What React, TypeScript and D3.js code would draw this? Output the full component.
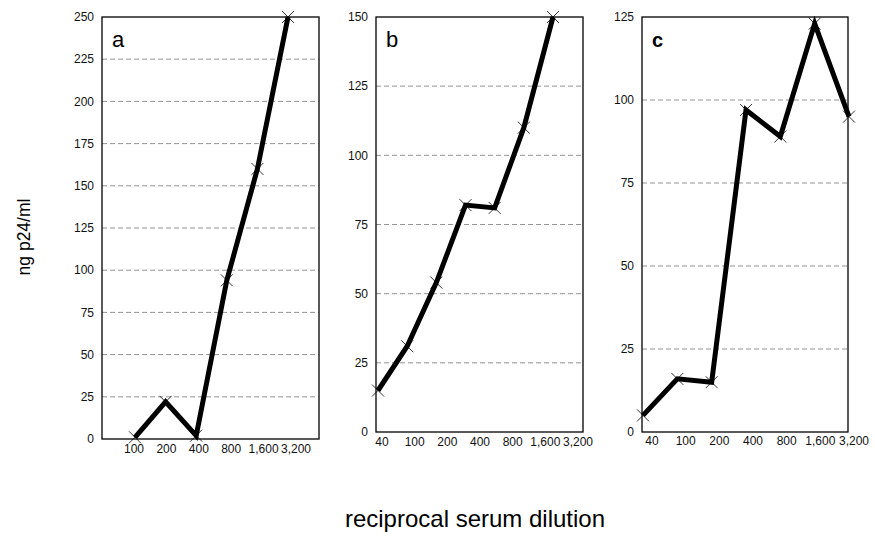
import React from "react";
import * as d3 from "d3";

// ---- data ----
const labelsA = ["100", "200", "400", "800", "1,600", "3,200"];
const valuesA = [1, 22, 2, 94, 160, 250];
const labelsB = ["40", "100", "200", "400", "800", "1,600", "3,200"];
const valuesB = [15, 31, 54, 82, 81, 110, 150];
const labelsC = ["40", "100", "200", "400", "800", "1,600", "3,200"];
const valuesC = [5, 16, 15, 97, 89, 123, 95];
const yMaxA = 250;
const yMaxB = 150;
const yMaxC = 125;
const yStep = 25;

const W = 875;
const H = 538;
const FONT = "'Liberation Sans', Arial, Helvetica, sans-serif";

type PanelCfg = {
  letter: string;
  letterSize: number;
  letterWeight: string;
  labels: string[];
  values: number[];
  yMax: number;
  box: [number, number, number, number]; // x0,y0,x1,y1
  pts: [number, number];
  lbl: [number, number];
  lblY: number;
};

const panels: PanelCfg[] = [
  {
    letter: "a", letterSize: 22, letterWeight: "normal",
    labels: labelsA, values: valuesA, yMax: yMaxA,
    box: [102, 17, 319, 439], pts: [135, 288], lbl: [134, 296], lblY: 453,
  },
  {
    letter: "b", letterSize: 22, letterWeight: "normal",
    labels: labelsB, values: valuesB, yMax: yMaxB,
    box: [376, 17, 583, 432], pts: [378, 553], lbl: [382, 578], lblY: 446,
  },
  {
    letter: "c", letterSize: 20, letterWeight: "bold",
    labels: labelsC, values: valuesC, yMax: yMaxC,
    box: [642, 17, 848, 432], pts: [643, 849], lbl: [652, 854], lblY: 445,
  },
];

function Panel({ cfg }: { cfg: PanelCfg }) {
  const [x0, y0, x1, y1] = cfg.box;
  const y = d3.scaleLinear().domain([0, cfg.yMax]).range([y1, y0]);
  const x = d3.scalePoint<string>().domain(cfg.labels).range(cfg.pts);
  const xl = d3.scalePoint<string>().domain(cfg.labels).range(cfg.lbl);
  const ticks = d3.range(0, cfg.yMax + 0.001, yStep);
  const line = d3
    .line<number>()
    .x((_, i) => x(cfg.labels[i]) as number)
    .y((d) => y(d));
  const s = 6;
  return (
    <g>
      {ticks
        .filter((t) => t > 0 && t < cfg.yMax)
        .map((t) => (
          <line key={"g" + t} x1={x0} x2={x1} y1={y(t)} y2={y(t)}
            stroke="#777" strokeWidth={0.8} strokeDasharray="5,3" />
        ))}
      {ticks.map((t) => (
        <text key={"t" + t} x={x0 - 8} y={y(t)} dy="0.35em" textAnchor="end"
          fontSize={12} fontFamily={FONT} fill="#111">{t}</text>
      ))}
      {cfg.labels.map((l) => (
        <text key={"l" + l} x={xl(l)} y={cfg.lblY} textAnchor="middle"
          fontSize={12} fontFamily={FONT} fill="#111">{l}</text>
      ))}
      <rect x={x0} y={y0} width={x1 - x0} height={y1 - y0} fill="none"
        stroke="#000" strokeWidth={1.3} />
      <text x={x0 + 10} y={y0 + 30} fontSize={cfg.letterSize}
        fontWeight={cfg.letterWeight} fontFamily={FONT} fill="#000">{cfg.letter}</text>
      <path d={line(cfg.values) || ""} fill="none" stroke="#000" strokeWidth={5}
        strokeLinejoin="miter" strokeLinecap="butt" />
      {cfg.values.map((v, i) => {
        const px = x(cfg.labels[i]) as number;
        const py = y(v);
        return (
          <path key={"m" + i}
            d={`M${px - s},${py - s}L${px + s},${py + s}M${px - s},${py + s}L${px + s},${py - s}`}
            stroke="#000" strokeWidth={0.8} fill="none" />
        );
      })}
    </g>
  );
}

export default function App() {
  return (
    <svg width={W} height={H} style={{ position: "absolute", left: 0, top: 0, background: "#fff" }}>
      <rect width={W} height={H} fill="#fff" />
      {panels.map((p) => (
        <Panel key={p.letter} cfg={p} />
      ))}
      <text x={24} y={237} transform="rotate(-90 24 237)" textAnchor="middle" dy="0.35em"
        fontSize={17.5} fontFamily={FONT} fill="#000">ng p24/ml</text>
      <text x={475} y={527} textAnchor="middle" fontSize={24} fontFamily={FONT} fill="#000">
        reciprocal serum dilution
      </text>
    </svg>
  );
}
